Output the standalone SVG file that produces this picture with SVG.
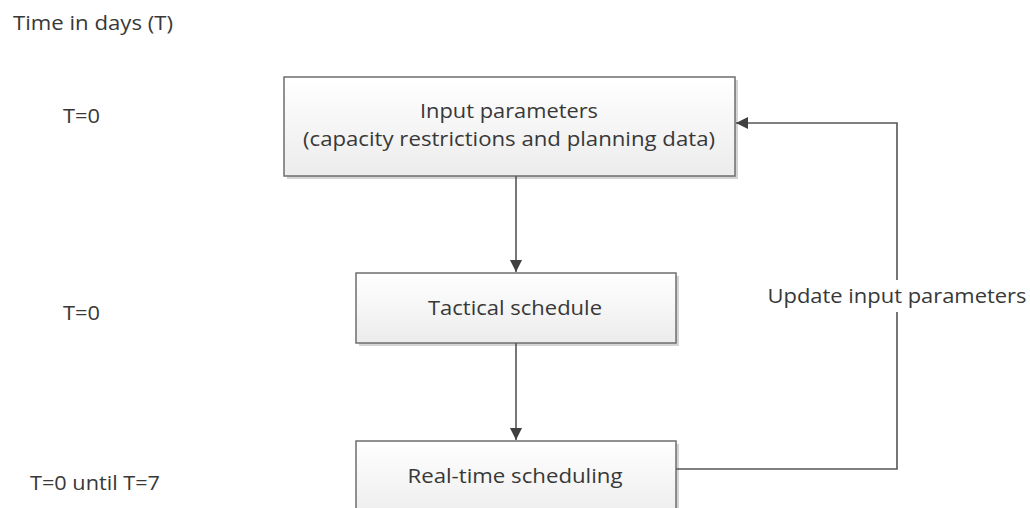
<svg xmlns="http://www.w3.org/2000/svg" width="1030" height="508" viewBox="0 0 1030 508">
  <defs>
    <linearGradient id="boxFill" x1="0" y1="0" x2="0" y2="1">
      <stop offset="0" stop-color="#ffffff"/>
      <stop offset="1" stop-color="#ececec"/>
    </linearGradient>
    <marker id="arrow" viewBox="0 0 10 10" refX="10" refY="5" markerWidth="12" markerHeight="12" markerUnits="userSpaceOnUse" orient="auto">
      <path d="M0,0 L10,5 L0,10 z" fill="#404040"/>
    </marker>
  </defs>
  <style>
    text { font-family: "Open Sans", "Noto Sans", "Liberation Sans", sans-serif; font-size: 20px; fill: #383838; }
    .box { fill: url(#boxFill); stroke: #6e6e6e; stroke-width: 1.5; }
    .shadow { fill: #d4d4d4; }
    .link { fill: none; stroke: #555555; stroke-width: 1.6; }
  </style>

  <rect width="1030" height="508" fill="#ffffff"/>

  <!-- time axis labels -->
  <g id="time-labels">
    <text x="13" y="30" textLength="160" lengthAdjust="spacingAndGlyphs">Time in days (T)</text>
    <text x="63" y="123" textLength="37" lengthAdjust="spacingAndGlyphs">T=0</text>
    <text x="63" y="320" textLength="37" lengthAdjust="spacingAndGlyphs">T=0</text>
    <text x="30" y="490" textLength="130" lengthAdjust="spacingAndGlyphs">T=0 until T=7</text>
  </g>

  <g id="input-parameters">
    <rect class="shadow" x="287" y="80" width="451" height="99"/>
    <rect class="box" x="284" y="77" width="451" height="99"/>
    <text x="509" y="118" text-anchor="middle" textLength="178" lengthAdjust="spacingAndGlyphs">Input parameters</text>
    <text x="509" y="146" text-anchor="middle" textLength="412" lengthAdjust="spacingAndGlyphs">(capacity restrictions and planning data)</text>
  </g>

  <g id="tactical-schedule">
    <rect class="shadow" x="359" y="276" width="320" height="70"/>
    <rect class="box" x="356" y="273" width="320" height="70"/>
    <text x="515" y="315" text-anchor="middle" textLength="174" lengthAdjust="spacingAndGlyphs">Tactical schedule</text>
  </g>

  <g id="real-time-scheduling">
    <rect class="shadow" x="359" y="444" width="320" height="80"/>
    <rect class="box" x="356" y="441" width="320" height="80"/>
    <text x="515" y="483" text-anchor="middle" textLength="215" lengthAdjust="spacingAndGlyphs">Real-time scheduling</text>
  </g>

  <g id="connectors">
    <line class="link" x1="516" y1="176" x2="516" y2="272" marker-end="url(#arrow)"/>
    <line class="link" x1="516" y1="343" x2="516" y2="440" marker-end="url(#arrow)"/>
    <polyline class="link" points="676,469 897,469 897,123 736,123" marker-end="url(#arrow)"/>
    <!-- label sits on the feedback line, breaking it -->
    <rect x="880" y="280" width="34" height="32" fill="#ffffff"/>
    <text x="897" y="303" text-anchor="middle" textLength="259" lengthAdjust="spacingAndGlyphs">Update input parameters</text>
  </g>
</svg>
